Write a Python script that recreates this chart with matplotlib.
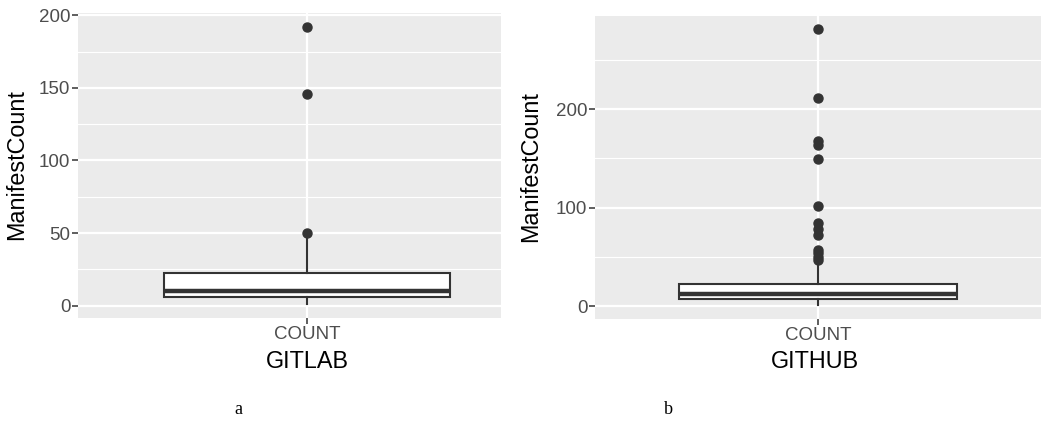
import matplotlib
matplotlib.use("Agg")
import matplotlib.pyplot as plt
from matplotlib.ticker import MultipleLocator

# box statistics (ManifestCount)
gitlab_stats = [1, 6, 9.8, 22.5, 46.5]      # whislo, q1, med, q3, whishi
gitlab_fliers = [50, 146, 192]

github_stats = [1, 7.8, 12.2, 22.7, 45]
github_fliers = [47.4, 50, 54, 57.5, 72.8, 78.5, 84, 102, 149, 163.5, 167.5, 211, 281]

category = "COUNT"
panel_titles = ["GITLAB", "GITHUB"]
captions = ["a", "b"]

bg = "#EBEBEB"
dark = "#333333"
ticklab = "#4D4D4D"

plt.rcParams["font.family"] = ["Liberation Sans", "DejaVu Sans"]

W, H = 1052, 426
fig = plt.figure(figsize=(W / 100, H / 100), dpi=100)


def px_axes(x0, y0, x1, y1):
    # pixel box (top-left origin) -> figure axes
    return fig.add_axes([x0 / W, 1 - y1 / H, (x1 - x0) / W, (y1 - y0) / H])


def draw_panel(ax, stats, fliers, xlim, ylim, major, minor):
    ax.set_facecolor(bg)
    for s in ax.spines.values():
        s.set_visible(False)

    st = {"whislo": stats[0], "q1": stats[1], "med": stats[2], "q3": stats[3],
          "whishi": stats[4], "fliers": fliers}
    ax.bxp([st], positions=[1], widths=0.75, showcaps=False, patch_artist=True,
           manage_ticks=False,
           boxprops=dict(facecolor="white", edgecolor=dark, lw=1.5),
           whiskerprops=dict(color=dark, lw=1.5),
           medianprops=dict(color=dark, lw=3.2, solid_capstyle="butt"),
           flierprops=dict(marker="o", markerfacecolor=dark, markeredgecolor=dark,
                           markersize=6.5, linestyle="none"))

    ax.set_xlim(xlim)
    ax.set_ylim(ylim)
    ax.yaxis.set_major_locator(MultipleLocator(major))
    ax.yaxis.set_minor_locator(MultipleLocator(minor))
    ax.set_xticks([1])
    ax.set_xticklabels([category])
    ax.grid(True, which="major", color="white", lw=1.6)
    ax.grid(True, which="minor", axis="y", color="white", lw=0.8)
    ax.set_axisbelow(True)
    ax.tick_params(axis="both", which="major", length=4, width=1.1, color=dark,
                   labelcolor=ticklab, labelsize=13.5, pad=1.5)
    ax.tick_params(axis="y", which="minor", length=0)


ax1 = px_axes(78, 13, 501, 318)
draw_panel(ax1, gitlab_stats, gitlab_fliers, (0.4, 1.509), (-8.55, 201.55), 50, 25)

ax2 = px_axes(595, 15.7, 1041, 319)
draw_panel(ax2, github_stats, github_fliers, (0.4, 1.6), (-13, 295), 100, 50)

# axis titles
fig.text(17 / W, 1 - 165 / H, "ManifestCount", rotation=90, ha="center", va="center",
         fontsize=16.8, color="black")
fig.text(531 / W, 1 - 167 / H, "ManifestCount", rotation=90, ha="center", va="center",
         fontsize=16.8, color="black")
fig.text(307 / W, 1 - 362 / H, panel_titles[0], ha="center", va="center",
         fontsize=16.8, color="black")
fig.text(815 / W, 1 - 362 / H, panel_titles[1], ha="center", va="center",
         fontsize=16.8, color="black")

# sub-figure captions
fig.text(238 / W, 1 - 409 / H, captions[0], ha="center", va="center",
         fontsize=13, family=["Liberation Serif", "DejaVu Serif"])
fig.text(668 / W, 1 - 409 / H, captions[1], ha="center", va="center",
         fontsize=13, family=["Liberation Serif", "DejaVu Serif"])

fig.savefig("out.png", dpi=100)
